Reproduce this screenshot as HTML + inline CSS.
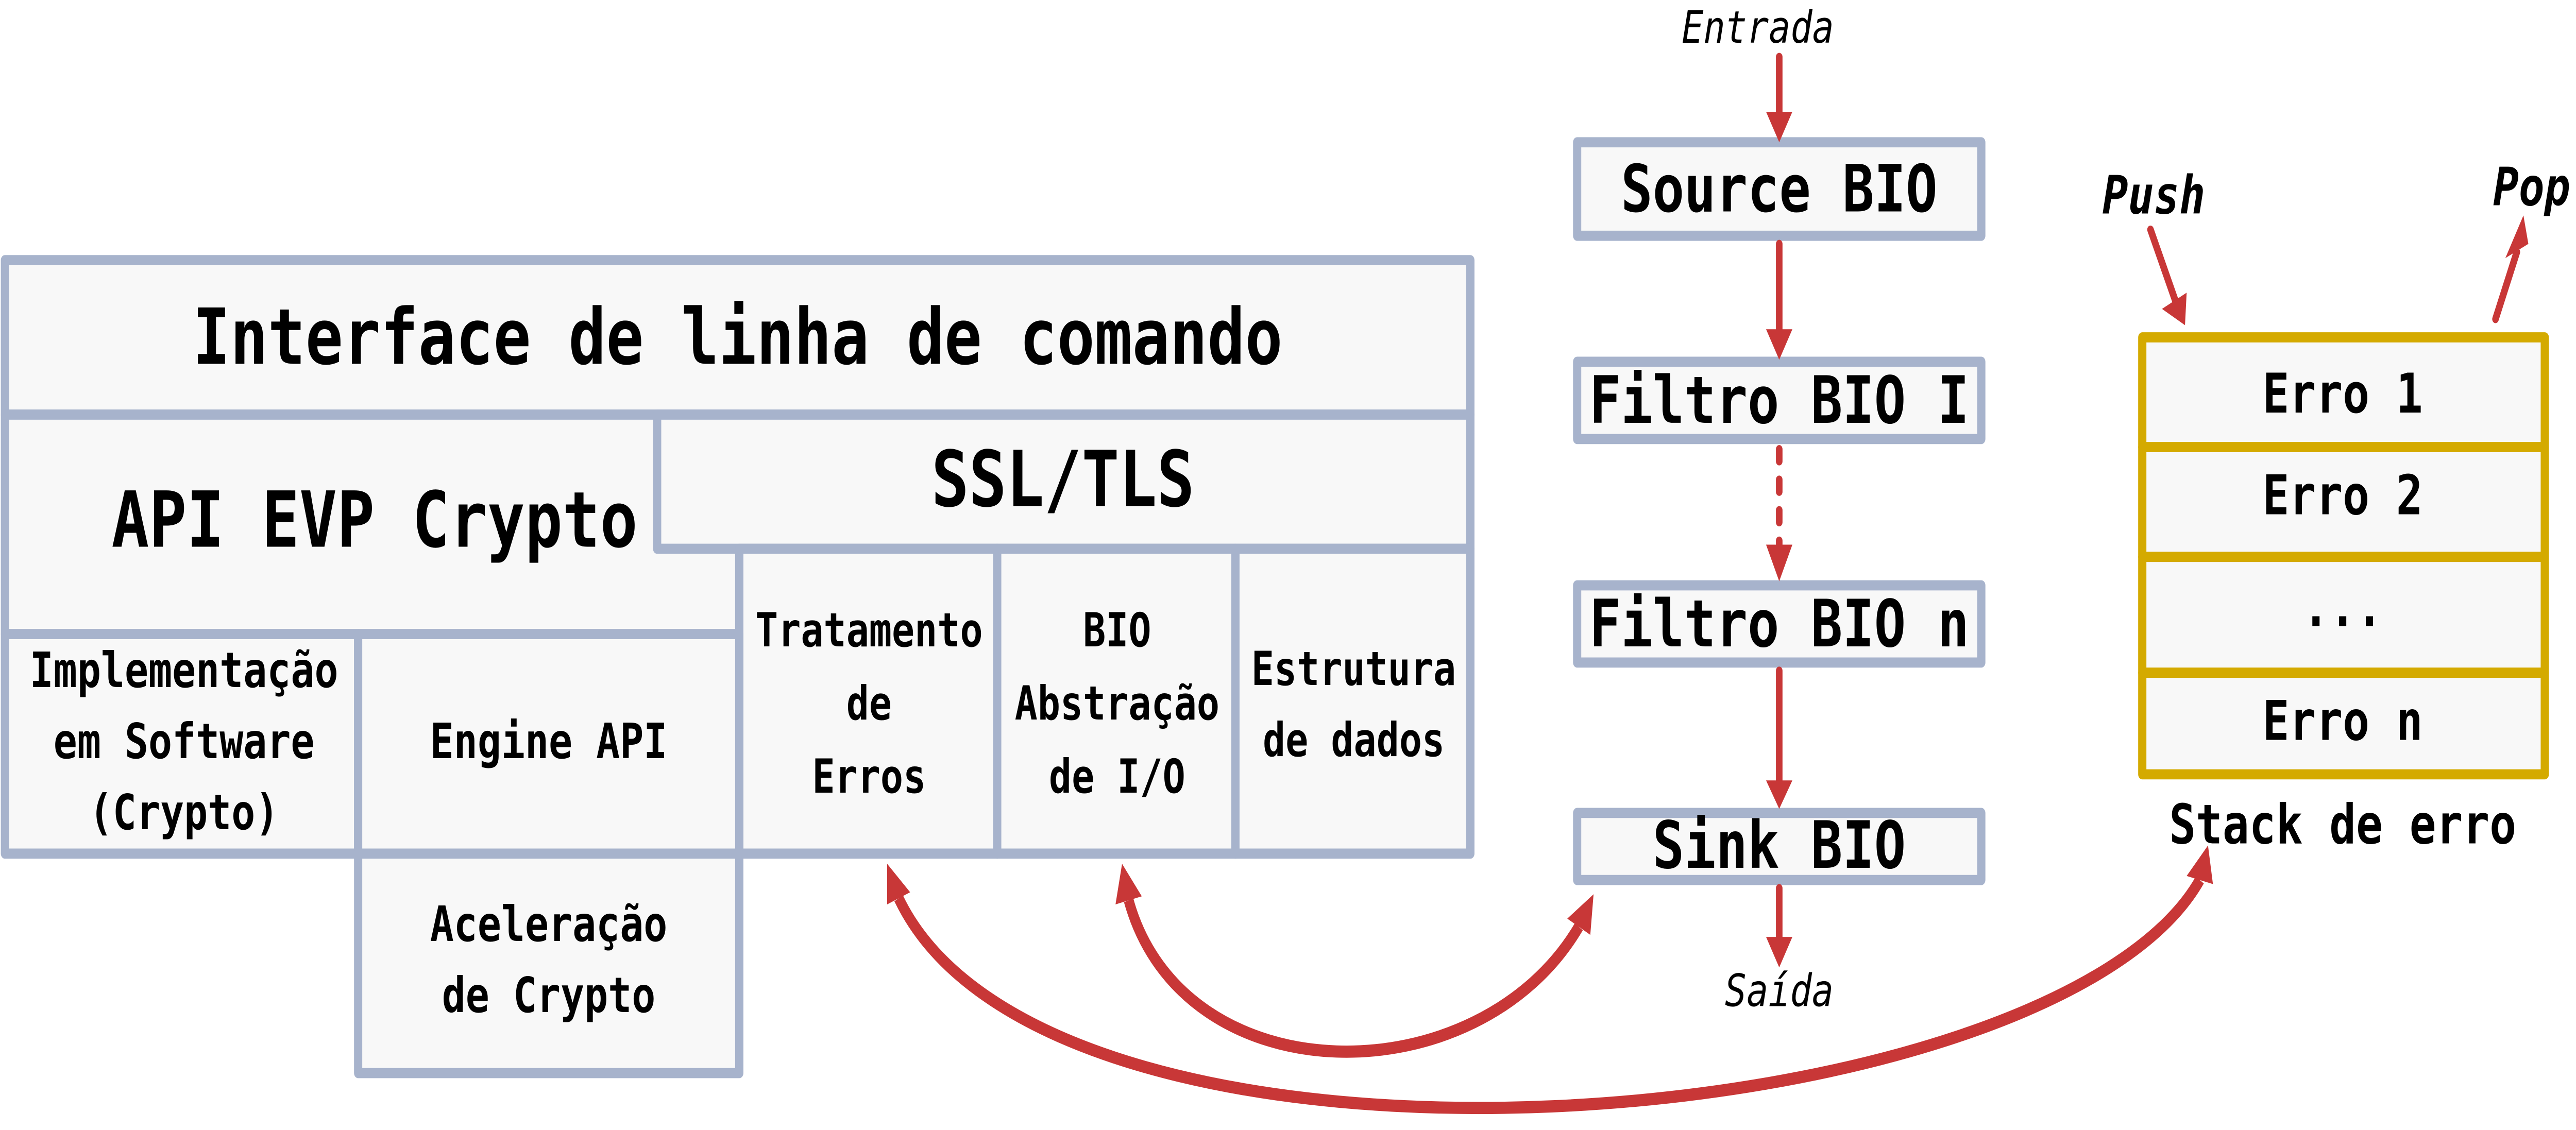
<!DOCTYPE html>
<html><head><meta charset="utf-8"><style>
html,body{margin:0;padding:0;background:#fff;width:100%;height:100%;overflow:hidden;}
svg{display:block;width:100vw;height:100vh;}
text{font-family:"DejaVu Sans Mono","Liberation Mono",monospace;font-weight:bold;fill:#000;}
.it{font-style:italic;font-weight:normal;}
</style></head><body>
<svg viewBox="0 0 1568 556" preserveAspectRatio="none" xmlns="http://www.w3.org/2000/svg">
<g fill="#f8f8f8" stroke="#a7b3cc" stroke-width="5" stroke-linejoin="round">
<rect x="3" y="128" width="892" height="76"/>
<rect x="3" y="204" width="447" height="108"/>
<rect x="400" y="204" width="495" height="66"/>
<rect x="450" y="270" width="157" height="150"/>
<rect x="607" y="270" width="145" height="150"/>
<rect x="752" y="270" width="143" height="150"/>
<rect x="3" y="312" width="215" height="108"/>
<rect x="218" y="312" width="232" height="108"/>
<rect x="218" y="420" width="232" height="108"/>
<rect x="960" y="70" width="246" height="46"/>
<rect x="960" y="178" width="246" height="38"/>
<rect x="960" y="288" width="246" height="38"/>
<rect x="960" y="400" width="246" height="33"/>
</g>
<g fill="#f8f8f8" stroke="#d4aa00" stroke-width="5" stroke-linejoin="round">
<rect x="1304" y="166" width="245" height="54"/>
<rect x="1304" y="220" width="245" height="54"/>
<rect x="1304" y="274" width="245" height="57"/>
<rect x="1304" y="331" width="245" height="50"/>
</g>
<g text-anchor="middle">
<text x="449" y="179" font-size="38">Interface de linha de comando</text>
<text x="228" y="269" font-size="38">API EVP Crypto</text>
<text x="647" y="249" font-size="38">SSL/TLS</text>
<text x="112" y="338" font-size="24">Implementação</text>
<text x="112" y="373" font-size="24">em Software</text>
<text x="112" y="408" font-size="24">(Crypto)</text>
<text x="334" y="373" font-size="24">Engine API</text>
<text x="334" y="463" font-size="24">Aceleração</text>
<text x="334" y="498" font-size="24">de Crypto</text>
<text x="529" y="318" font-size="23">Tratamento</text>
<text x="529" y="354" font-size="23">de</text>
<text x="529" y="390" font-size="23">Erros</text>
<text x="680" y="318" font-size="23">BIO</text>
<text x="680" y="354" font-size="23">Abstração</text>
<text x="680" y="390" font-size="23">de I/O</text>
<text x="824" y="337" font-size="23">Estrutura</text>
<text x="824" y="372" font-size="23">de dados</text>
<text x="1083" y="104" font-size="32">Source BIO</text>
<text x="1083" y="208" font-size="32">Filtro BIO I</text>
<text x="1083" y="318" font-size="32">Filtro BIO n</text>
<text x="1083" y="427" font-size="32">Sink BIO</text>
<text class="it" x="1070" y="21" font-size="22">Entrada</text>
<text class="it" x="1083" y="495" font-size="22">Saída</text>
<text x="1426" y="203" font-size="27">Erro 1</text>
<text x="1426" y="253" font-size="27">Erro 2</text>
<text x="1426" y="308" font-size="27">...</text>
<text x="1426" y="364" font-size="27">Erro n</text>
<text x="1426" y="415" font-size="27">Stack de erro</text>
<text x="1311" y="105" font-size="26" font-style="italic">Push</text>
<text x="1541" y="101" font-size="26" font-style="italic">Pop</text>
</g>
<g stroke="#c83737" stroke-width="4" fill="none" stroke-linecap="round">
<line x1="1083" y1="28" x2="1083" y2="56"/>
<line x1="1083" y1="120" x2="1083" y2="164"/>
<line x1="1083" y1="221" x2="1083" y2="268" stroke-dasharray="6,9"/>
<line x1="1083" y1="330" x2="1083" y2="386"/>
<line x1="1083" y1="437" x2="1083" y2="462"/>
<line x1="1309" y1="113" x2="1325" y2="150"/>
<line x1="1519" y1="157" x2="1532" y2="124"/>
<path d="M547 442 C640 600 1250 560 1339 433" stroke-width="6" stroke-linecap="butt"/>
<path d="M687 443 C720 540 900 540 961 456" stroke-width="6" stroke-linecap="butt"/>
</g>
<g fill="#c83737">
<polygon points="1075,55 1091,55 1083,70"/>
<polygon points="1075,162 1091,162 1083,177"/>
<polygon points="1075,268 1091,268 1083,286"/>
<polygon points="1075,384 1091,384 1083,398"/>
<polygon points="1075,461 1091,461 1083,476"/>
<polygon points="1316,152 1331,144 1330,160"/>
<polygon points="1525,127 1539,120 1536,106"/>
<polygon points="540,425 554,439 540,445"/>
<polygon points="683,425 695,441 679,445"/>
<polygon points="970,440 968,460 954,452"/>
<polygon points="1344,416 1347,435 1331,431"/>
</g>
</svg>
</body></html>
